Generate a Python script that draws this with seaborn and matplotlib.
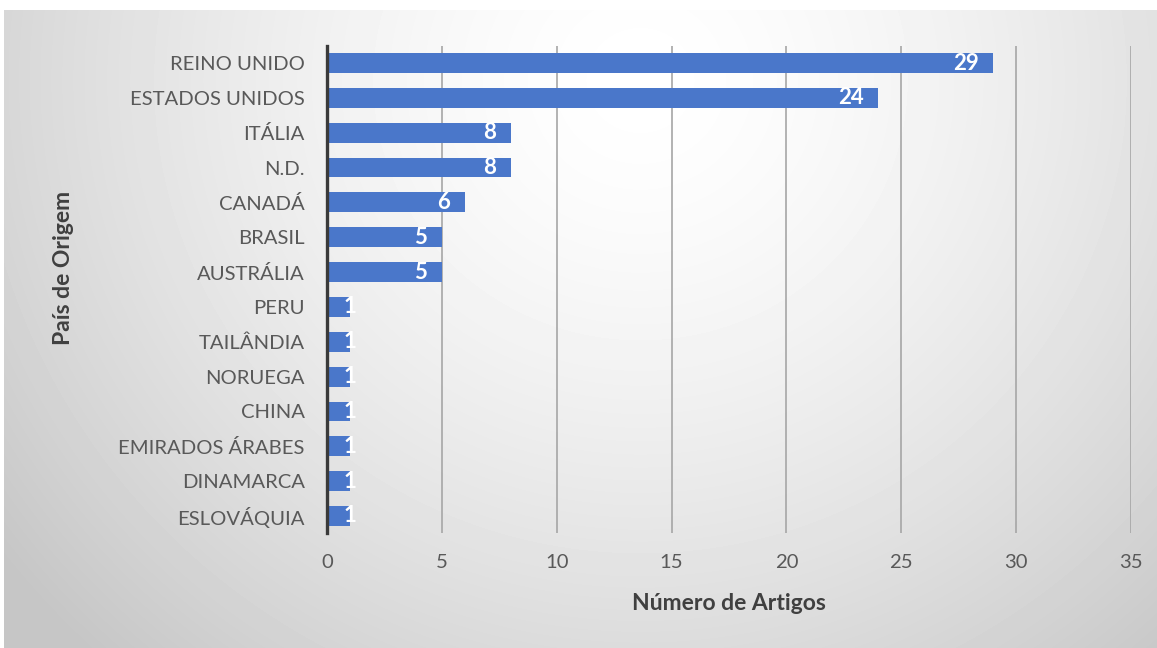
import numpy as np
import pandas as pd
import matplotlib
matplotlib.use("Agg")
import matplotlib.pyplot as plt
import seaborn as sns

# Articles per country of origin
paises = ["REINO UNIDO", "ESTADOS UNIDOS", "ITÁLIA", "N.D.", "CANADÁ", "BRASIL",
          "AUSTRÁLIA", "PERU", "TAILÂNDIA", "NORUEGA", "CHINA", "EMIRADOS ÁRABES",
          "DINAMARCA", "ESLOVÁQUIA"]
artigos = [29, 24, 8, 8, 6, 5, 5, 1, 1, 1, 1, 1, 1, 1]
ticks_x = [0, 5, 10, 15, 20, 25, 30, 35]

df = pd.DataFrame({"pais": paises, "artigos": artigos})

sns.set_theme(style="white")
plt.rcParams["font.family"] = ["Lato", "DejaVu Sans"]

W, H = 1157, 648
fig = plt.figure(figsize=(W / 100, H / 100), dpi=100)
fig.patch.set_facecolor("white")

# radial grey background of the chart area
bg = fig.add_axes([4 / W, 0, 1 - 4 / W, (H - 10) / H], zorder=0)
yy, xx = np.mgrid[10:H, 4:W]
cx, cy, rx, ry = 640, 80, 720, 700
d = np.sqrt(((xx - cx) / rx) ** 2 + ((yy - cy) / ry) ** 2)
val = np.clip(1 - 0.19 * d ** 1.5, 0.775, 1.0)
bg.imshow(val, cmap="gray", vmin=0, vmax=1, aspect="auto", interpolation="bilinear")
bg.set_axis_off()

ax_left, ax_right = 327 / W, 1131 / W
ax_top, ax_bot = 1 - 45.6 / H, 1 - 533.4 / H
ax = fig.add_axes([ax_left, ax_bot, ax_right - ax_left, ax_top - ax_bot], zorder=1)
ax.patch.set_alpha(0)

sns.barplot(data=df, x="artigos", y="pais", orient="h", color="#4A77CA",
            saturation=1, width=0.57, linewidth=0, ax=ax, zorder=3)

ax.set_xlim(0, 35)
ax.set_xticks(ticks_x)
ax.set_xticklabels([str(t) for t in ticks_x])
ax.grid(axis="x", color="#a6a6a6", linewidth=1.2, zorder=1)
ax.set_axisbelow(True)
for s in ["top", "right", "bottom"]:
    ax.spines[s].set_visible(False)
ax.spines["left"].set_color("#3a3a3a")
ax.spines["left"].set_linewidth(2.4)
ax.spines["left"].set_zorder(4)

ax.tick_params(axis="y", length=0, pad=16, labelsize=14.6, labelcolor="#595959")
ax.tick_params(axis="x", length=0, pad=15, labelsize=14.6, labelcolor="#595959")
ax.set_xlabel("")
ax.set_ylabel("")

# value labels at the inside end of each bar
for i, v in enumerate(artigos):
    if v >= 2:
        ax.annotate(str(v), xy=(v, i), xytext=(-10.5, 0), textcoords="offset points",
                    ha="right", va="center", color="white", fontweight="bold",
                    fontsize=16, zorder=5)
    else:
        ax.annotate(str(v), xy=(v, i), xytext=(0, 0), textcoords="offset points",
                    ha="center", va="center", color="white", fontweight="bold",
                    fontsize=16, zorder=5)

fig.text(729 / W, 1 - 604 / H, "Número de Artigos", ha="center", va="center",
         fontsize=16.5, fontweight="bold", color="#404040")
fig.text(63 / W, 1 - 268 / H, "País de Origem", ha="center", va="center",
         rotation=90, fontsize=16.5, fontweight="bold", color="#404040")

fig.savefig("out.png", dpi=100)
